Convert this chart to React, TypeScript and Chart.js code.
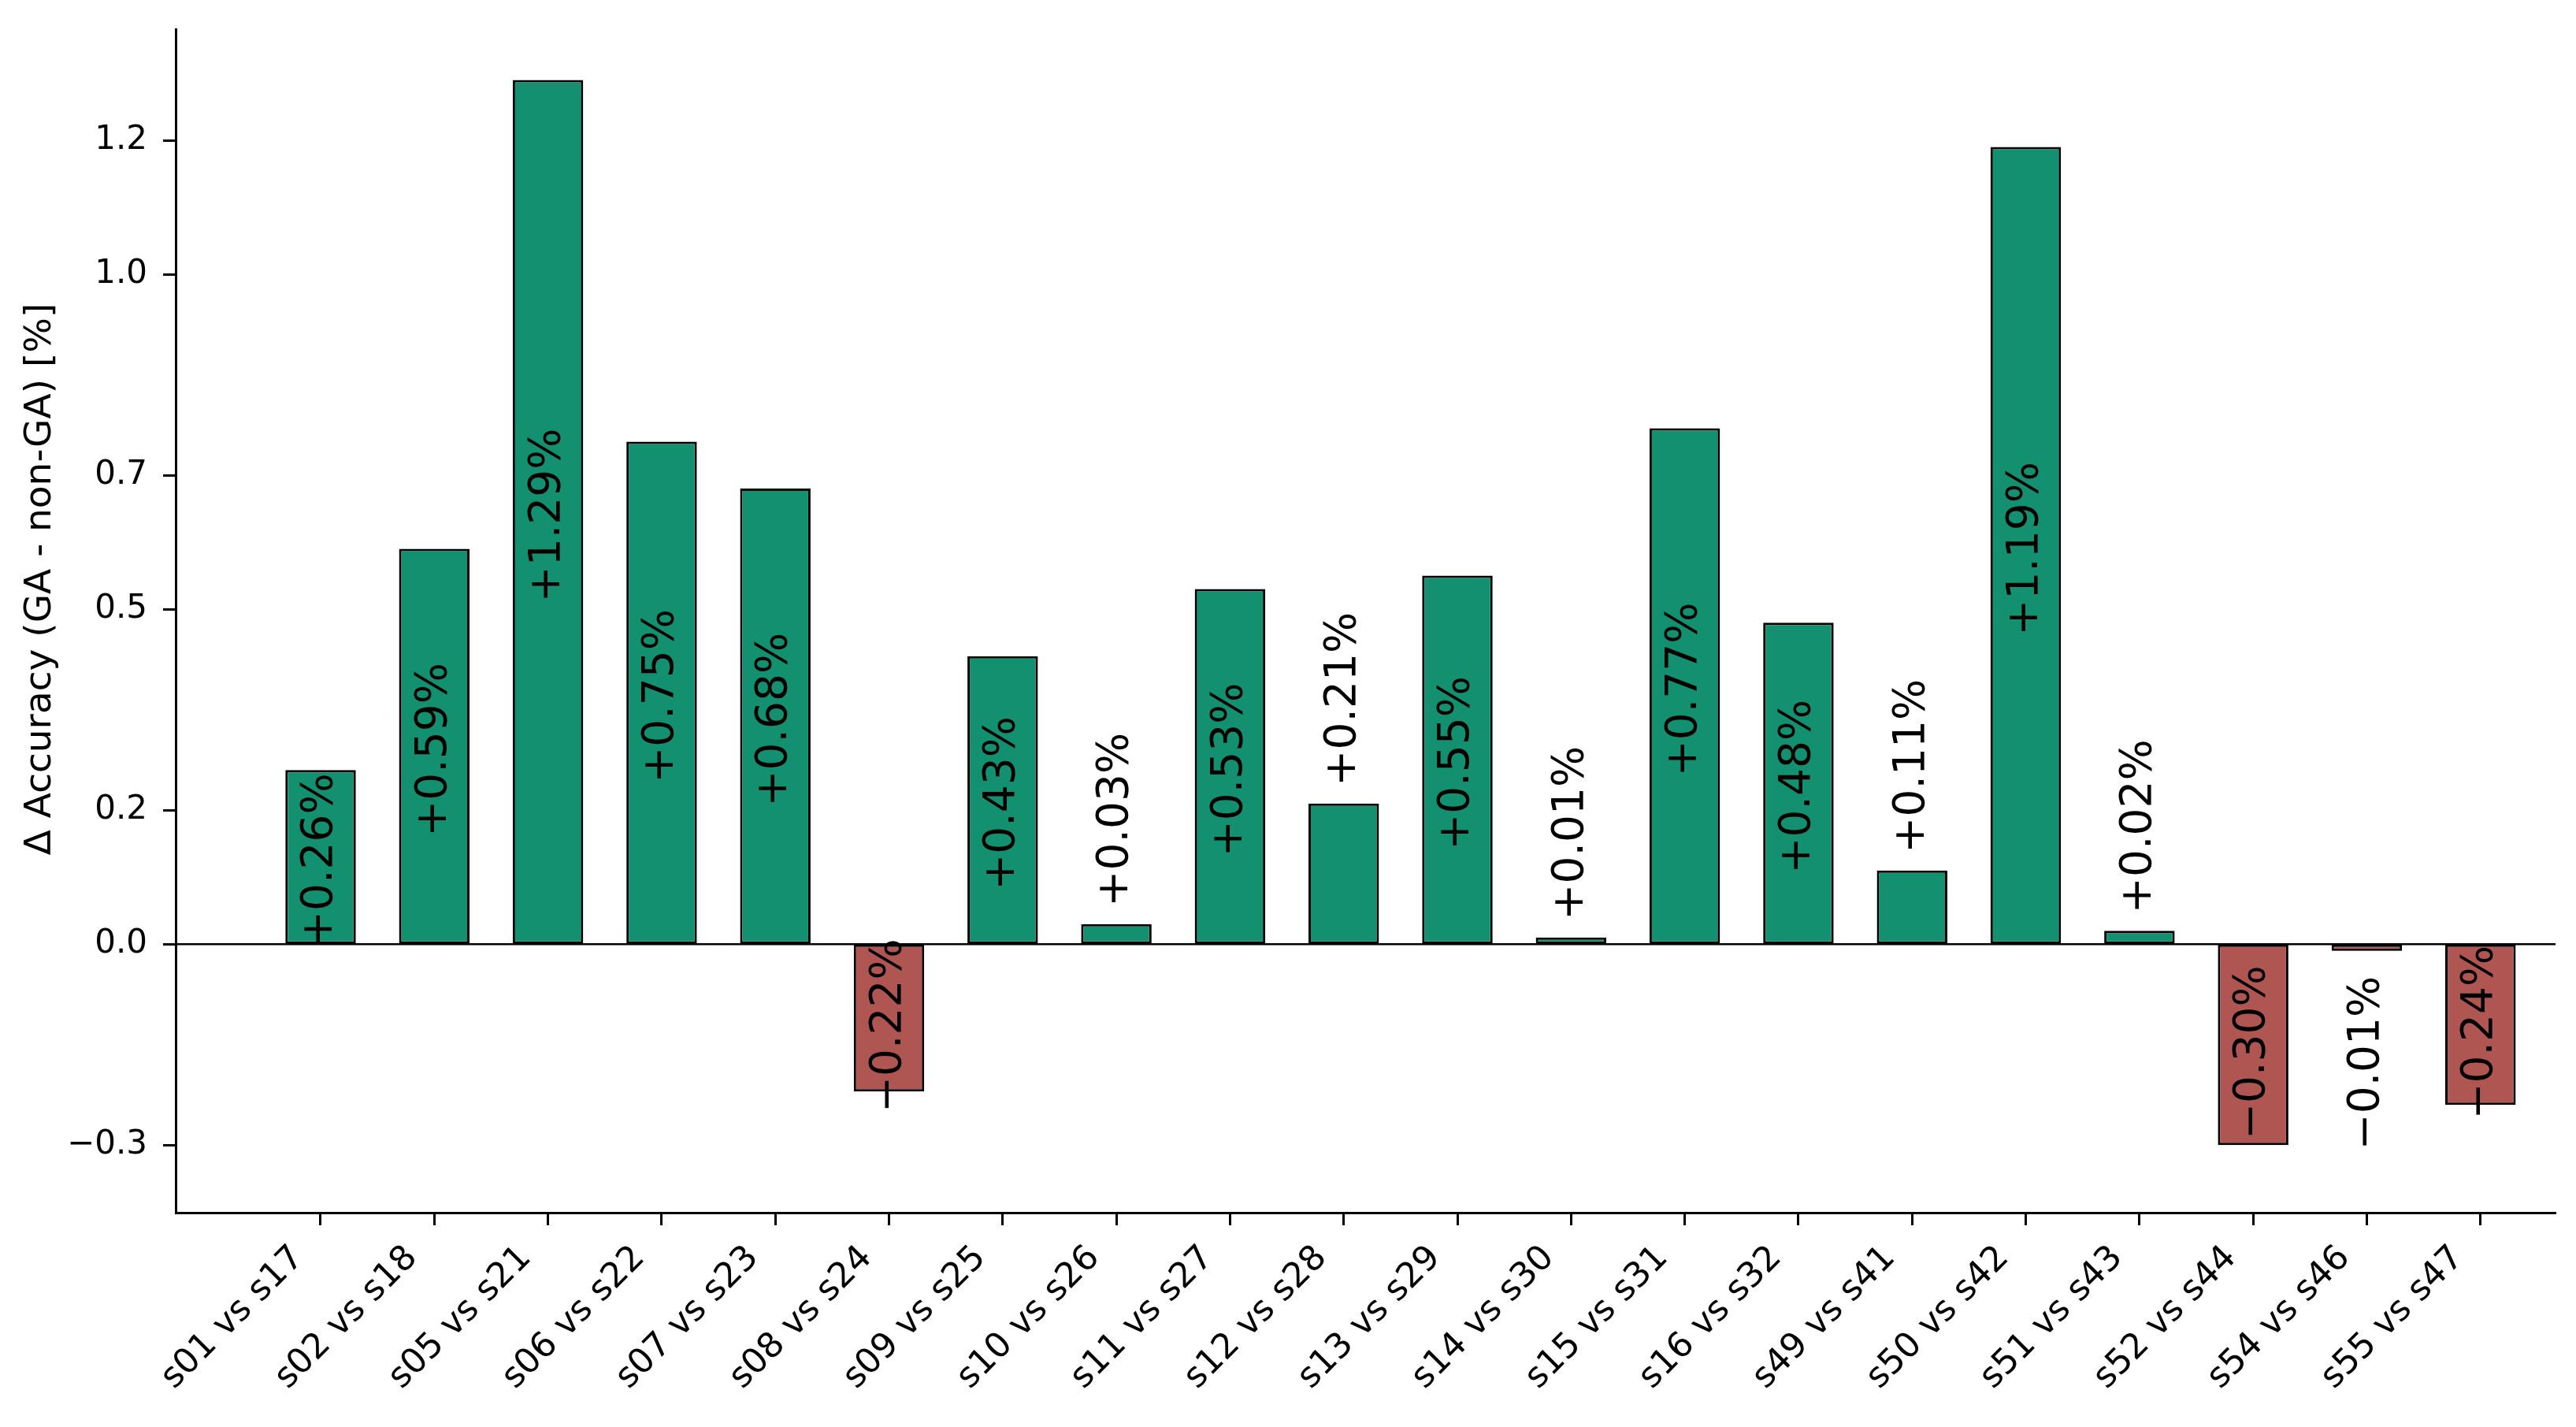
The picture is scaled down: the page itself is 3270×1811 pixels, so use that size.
import React, { useEffect, useRef } from "react";
import { Chart, registerables } from "chart.js";

Chart.register(...registerables);

// Subject pairs compared on the x axis
const categories = [
  "s01 vs s17", "s02 vs s18", "s05 vs s21", "s06 vs s22", "s07 vs s23",
  "s08 vs s24", "s09 vs s25", "s10 vs s26", "s11 vs s27", "s12 vs s28",
  "s13 vs s29", "s14 vs s30", "s15 vs s31", "s16 vs s32", "s49 vs s41",
  "s50 vs s42", "s51 vs s43", "s52 vs s44", "s54 vs s46", "s55 vs s47",
];

// Accuracy difference (GA minus non-GA), in percentage points
const deltas = [
  0.26, 0.59, 1.29, 0.75, 0.68, -0.22, 0.43, 0.03, 0.53, 0.21,
  0.55, 0.01, 0.77, 0.48, 0.11, 1.19, 0.02, -0.30, -0.01, -0.24,
];

const yTicks = [-0.3, 0.0, 0.2, 0.5, 0.7, 1.0, 1.2];
const yTitle = "Δ Accuracy (GA - non-GA) [%]";

const GAIN = "#12906f";
const LOSS = "#b05652";
const FONT = "'DejaVu Sans', 'Liberation Sans', sans-serif";
const MINUS = "\u2212";

// bars shorter than this get their label outside the bar
const INSIDE_MIN = 0.215;

const fmtTick = (v: number) => (v < 0 ? MINUS : "") + Math.abs(v).toFixed(1);
const fmtDelta = (v: number) => (v < 0 ? MINUS : "+") + Math.abs(v).toFixed(2) + "%";

const annotate = {
  id: "annotate",
  afterDatasetsDraw(chart: any) {
    const { ctx, chartArea } = chart;
    const yScale = chart.scales.y;
    const zero = yScale.getPixelForValue(0);

    ctx.save();
    // horizontal reference line at zero
    ctx.strokeStyle = "#000";
    ctx.lineWidth = 2.5;
    ctx.beginPath();
    ctx.moveTo(chartArea.left, zero);
    ctx.lineTo(chartArea.right, zero);
    ctx.stroke();

    // rotated value labels
    ctx.fillStyle = "#000";
    ctx.font = `55px ${FONT}`;
    ctx.textBaseline = "middle";
    const meta = chart.getDatasetMeta(0);
    meta.data.forEach((bar: any, i: number) => {
      const v = deltas[i];
      const end = yScale.getPixelForValue(v);
      let ay: number;
      let align: CanvasTextAlign;
      if (Math.abs(v) >= INSIDE_MIN) {
        ay = (end + zero) / 2 + (v >= 0 ? 4 : 10);
        align = "center";
      } else if (v >= 0) {
        ay = end - 22;
        align = "left";
      } else {
        ay = end + 32;
        align = "right";
      }
      ctx.save();
      ctx.translate(bar.x, ay);
      ctx.rotate(-Math.PI / 2);
      ctx.textAlign = align;
      ctx.fillText(fmtDelta(v), 0, 0);
      ctx.restore();
    });

    // y axis title
    ctx.font = `47px ${FONT}`;
    ctx.textAlign = "center";
    ctx.translate(52, 735);
    ctx.rotate(-Math.PI / 2);
    ctx.fillText(yTitle, 0, 0);
    ctx.restore();
  },
};

export default function App() {
  const canvasRef = useRef<HTMLCanvasElement | null>(null);

  useEffect(() => {
    const canvas = canvasRef.current;
    if (!canvas) return;
    const chart = new Chart(canvas, {
      type: "bar",
      data: {
        datasets: [
          {
            data: deltas.map((v, i) => ({ x: i, y: v })),
            backgroundColor: deltas.map((v) => (v >= 0 ? GAIN : LOSS)),
            borderColor: "#000",
            borderWidth: 3,
            borderSkipped: false,
            barPercentage: 0.62,
            categoryPercentage: 1,
          },
        ],
      },
      options: {
        responsive: false,
        animation: false,
        devicePixelRatio: 1,
        layout: { padding: { top: 37, right: 26, left: 0, bottom: 0 } },
        plugins: {
          legend: { display: false },
          tooltip: { enabled: false },
        },
        scales: {
          x: {
            type: "linear",
            min: -1.275,
            max: 19.66,
            offset: false,
            afterBuildTicks: (scale: any) => {
              scale.ticks = categories.map((_, i) => ({ value: i }));
            },
            afterFit: (scale: any) => {
              scale.height = 272;
              scale.paddingLeft = 0;
              scale.paddingRight = 0;
            },
            grid: {
              offset: false,
              drawOnChartArea: false,
              drawTicks: true,
              tickLength: 16,
              tickWidth: 3,
              tickColor: "#000",
            },
            border: { display: true, color: "#000", width: 3 },
            ticks: {
              autoSkip: false,
              minRotation: 45,
              maxRotation: 45,
              padding: 16,
              labelOffset: -28,
              color: "#000",
              font: { family: FONT, size: 44 },
              callback: (value: any) => categories[Number(value)] ?? "",
            },
          },
          y: {
            type: "linear",
            min: -0.401,
            max: 1.366,
            afterBuildTicks: (scale: any) => {
              scale.ticks = yTicks.map((v) => ({ value: v }));
            },
            afterFit: (scale: any) => {
              scale.width = 223;
              scale.paddingTop = 0;
              scale.paddingBottom = 0;
            },
            grid: {
              drawOnChartArea: false,
              drawTicks: true,
              tickLength: 16,
              tickWidth: 3,
              tickColor: "#000",
            },
            border: { display: true, color: "#000", width: 3 },
            ticks: {
              padding: 20,
              color: "#000",
              font: { family: FONT, size: 42 },
              callback: (value: any) => fmtTick(Number(value)),
            },
          },
        },
      },
      plugins: [annotate],
    });
    return () => chart.destroy();
  }, []);

  return (
    <div style={{ position: "absolute", left: 0, top: 0, width: 3270, height: 1811, background: "#fff" }}>
      <canvas ref={canvasRef} width={3270} height={1811} />
    </div>
  );
}
